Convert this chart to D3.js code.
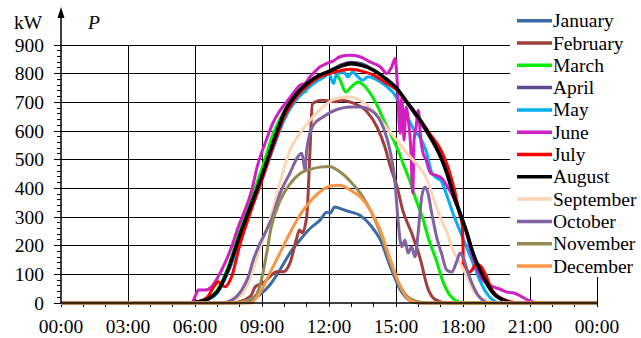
<!DOCTYPE html>
<html>
<head>
<meta charset="utf-8">
<script src="https://cdn.jsdelivr.net/npm/d3@7"></script>
<style>
  body { margin: 0; background: #fff; }
  svg { display: block; }
  svg text { font-family: "Liberation Serif", "Times New Roman", "DejaVu Serif", serif !important; }
</style>
</head>
<body>
<div id="chart"></div>
<script>
// hourly power, [hour of day, kW]
const january = [[0,0],[8,0],[8.5,10],[9,35],[9.35,63],[9.8,115],[10.25,174],[10.7,220],[11.15,260],[11.6,289],[11.9,317],[12.05,313],[12.25,335],[12.7,324],[12.95,318],[13.4,305],[13.85,272],[14.3,220],[14.75,126],[15.2,45],[15.6,10],[16.1,0],[24,0]];
const february = [[0,0],[7.6,0],[8,5],[8.5,25],[8.7,57],[9.1,72],[9.35,92],[9.65,109],[9.95,109],[10.25,139],[10.55,225],[10.68,255],[10.8,245],[11,300],[11.15,533],[11.25,695],[11.7,707],[12.3,702],[12.5,707],[13.1,697],[13.7,667],[14.15,614],[14.5,545],[14.75,475],[15.05,405],[15.3,324],[15.7,244],[16.1,150],[16.4,57],[16.8,10],[17.3,0],[24,0]];
const march = [[0,0],[5.8,0],[6.5,15],[7,45],[7.5,130],[8,250],[8.5,360],[9,470],[9.5,590],[10,670],[10.5,730],[10.75,742],[10.95,736],[11.05,766],[11.65,794],[12,805],[12.2,812],[12.5,777],[12.75,736],[13,754],[13.3,771],[13.55,760],[13.85,731],[14.15,690],[14.45,638],[14.75,592],[15.05,540],[15.35,480],[15.6,430],[15.9,359],[16.2,295],[16.45,226],[16.8,150],[17.1,75],[17.4,28],[17.7,8],[18,0],[24,0]];
const april = [[0,0],[5.8,0],[6.2,5],[6.6,15],[7,38],[7.5,115],[8,228],[8.5,335],[9,440],[9.5,555],[10,660],[10.5,722],[11,762],[11.5,790],[12,808],[12.5,830],[13,840],[13.5,834],[14,812],[14.5,783],[15,750],[15.5,698],[16,640],[16.5,580],[17,510],[17.3,450],[17.55,380],[17.87,310],[18.18,240],[18.45,170],[18.75,112],[19.05,66],[19.35,33],[19.8,9],[20.3,0],[24,0]];
const may = [[0,0],[5.9,0],[6.5,10],[7,35],[7.5,110],[8,215],[8.5,325],[9,430],[9.5,540],[10,640],[10.5,705],[11,745],[11.5,775],[11.8,789],[12,800],[12.2,766],[12.35,801],[12.65,806],[12.85,789],[13.05,806],[13.3,789],[13.5,777],[13.75,789],[14,784],[14.3,771],[14.6,754],[14.9,731],[15.2,690],[15.5,650],[15.8,605],[16.1,575],[16.35,530],[16.6,455],[16.85,435],[17,428],[17.3,370],[17.55,313],[17.85,254],[18.15,196],[18.45,139],[18.75,80],[19.05,35],[19.35,10],[19.7,0],[24,0]];
const june = [[0,0],[5.85,0],[6,22],[6.15,45],[6.45,45],[6.75,57],[7.04,92],[7.34,139],[7.64,196],[7.94,266],[8.24,324],[8.54,394],[8.8,480],[9.2,570],[9.5,630],[9.81,672],[10.1,701],[10.39,731],[10.7,760],[10.93,766],[11.15,789],[11.29,801],[11.6,824],[11.9,836],[12.18,844],[12.49,859],[12.94,864],[13.39,859],[13.84,841],[14.29,824],[14.59,801],[14.81,824],[14.96,853],[15.06,766],[15.18,592],[15.26,719],[15.36,568],[15.45,684],[15.55,638],[15.66,545],[15.75,383],[15.81,568],[15.9,614],[16,672],[16.11,568],[16.22,520],[16.35,500],[16.45,470],[16.6,450],[16.82,445],[17.05,435],[17.27,410],[17.5,380],[17.72,340],[17.94,300],[18.17,240],[18.39,170],[18.62,120],[18.84,85],[19.06,68],[19.36,56],[19.66,48],[19.96,38],[20.24,36],[20.56,25],[20.86,12],[21.14,4],[21.45,0],[24,0]];
const july = [[0,0],[5.8,0],[6.3,8],[6.6,25],[6.75,45],[6.9,63],[7.04,74],[7.2,63],[7.34,57],[7.64,92],[8,200],[8.5,320],[9,430],[9.5,545],[10,650],[10.5,715],[11,755],[11.5,785],[12,800],[12.5,810],[13,815],[13.5,808],[14,795],[14.5,770],[15,745],[15.5,700],[16,648],[16.5,592],[17,535],[17.3,480],[17.6,400],[17.85,310],[17.97,270],[18.03,125],[18.3,108],[18.6,135],[18.8,128],[19.05,92],[19.3,45],[19.7,17],[20.1,5],[20.5,0],[24,0]];
const august = [[0,0],[5.8,0],[6.2,5],[6.6,15],[7,40],[7.5,120],[8,235],[8.5,340],[9,445],[9.5,560],[10,665],[10.5,725],[11,765],[11.5,792],[12,808],[12.5,825],[13,835],[13.5,828],[14,812],[14.5,785],[15,752],[15.5,700],[16.08,638],[16.5,585],[16.97,515],[17.29,450],[17.55,383],[17.87,313],[18.18,244],[18.45,174],[18.76,115],[19.07,69],[19.35,35],[19.8,10],[20.3,0],[24,0]];
const september = [[0,0],[7.5,0],[7.9,15],[8.24,45],[8.54,104],[8.84,174],[9.14,244],[9.44,313],[9.81,420],[10.25,533],[10.7,592],[11.15,638],[11.73,684],[12.27,712],[12.94,719],[13.52,701],[13.97,672],[14.42,627],[15.03,568],[15.63,510],[16.08,470],[16.39,430],[16.66,370],[16.97,301],[17.29,244],[17.55,185],[17.87,139],[18.18,92],[18.45,45],[18.76,22],[19.08,5],[19.4,0],[24,0]];
const october = [[0,0],[7.2,0],[7.64,10],[8.09,45],[8.39,92],[8.61,150],[8.84,196],[9.14,244],[9.44,295],[9.81,383],[10.25,453],[10.61,510],[10.78,522],[10.93,463],[11,533],[11.29,620],[11.73,649],[12.35,675],[12.94,684],[13.39,684],[13.97,667],[14.42,614],[14.73,533],[14.96,418],[15.09,289],[15.26,196],[15.4,220],[15.54,174],[15.7,196],[15.85,161],[15.99,244],[16.15,370],[16.3,405],[16.43,383],[16.6,313],[16.82,230],[17.05,170],[17.27,115],[17.5,108],[17.72,145],[17.87,174],[18,160],[18.23,104],[18.45,60],[18.76,18],[19.2,0],[24,0]];
const november = [[0,0],[7.5,0],[8.3,8],[8.75,30],[9,90],[9.2,170],[9.4,260],[9.8,355],[10.25,415],[10.7,452],[11.15,466],[11.6,474],[12,476],[12.5,457],[12.95,425],[13.4,383],[13.85,324],[14.3,244],[14.75,139],[15.2,57],[15.6,17],[16.1,3],[16.5,0],[24,0]];
const december = [[0,0],[8.5,0],[8.9,35],[9.35,104],[9.8,174],[10.25,244],[10.7,307],[11.15,353],[11.6,388],[12.05,408],[12.5,411],[12.95,394],[13.4,370],[13.85,324],[14.3,254],[14.75,150],[15.2,57],[15.6,10],[16.1,0],[24,0]];

const monthNames = ['January', 'February', 'March', 'April', 'May', 'June', 'July', 'August', 'September', 'October', 'November', 'December'];
const monthValues = [january, february, march, april, may, june, july, august, september, october, november, december];
const monthColors = ['#3d6ba3', '#a23f3c', '#00ee00', '#604a8c', '#00b0f0', '#d21fc1', '#ff0000', '#000000', '#fcd5b4', '#8064a2', '#948a54', '#f79646'];

const yTicks = [0, 100, 200, 300, 400, 500, 600, 700, 800, 900];
const xTicks = [0, 3, 6, 9, 12, 15, 18, 21, 24];
const xTickLabels = ['00:00', '03:00', '06:00', '09:00', '12:00', '15:00', '18:00', '21:00', '00:00'];

const serif = '"Liberation Serif", "Times New Roman", "DejaVu Serif", serif';
const fontSize = 19.5;

const width = 641, height = 338;
const svg = d3.select('#chart').append('svg')
  .attr('width', width)
  .attr('height', height);

const x = d3.scaleLinear().domain([0, 24]).range([61, 597]);
const y = d3.scaleLinear().domain([0, 900]).range([303, 45]);

// grid
const grid = svg.append('g').attr('shape-rendering', 'crispEdges');
grid.selectAll('line.h')
  .data(yTicks.filter(d => d > 0))
  .enter().append('line')
  .attr('x1', x(0)).attr('x2', x(24))
  .attr('y1', d => y(d)).attr('y2', d => y(d))
  .attr('stroke', '#000').attr('stroke-width', 1);
grid.selectAll('line.v')
  .data(xTicks.filter(d => d > 0))
  .enter().append('line')
  .attr('x1', d => x(d)).attr('x2', d => x(d))
  .attr('y1', y(900)).attr('y2', y(0))
  .attr('stroke', '#000').attr('stroke-width', 1);

// minor ticks
grid.selectAll('line.ym')
  .data(d3.range(0, 901, 20))
  .enter().append('line')
  .attr('x1', d => x(0) - (d % 100 === 0 ? 7 : 4)).attr('x2', x(0))
  .attr('y1', d => y(d)).attr('y2', d => y(d))
  .attr('stroke', '#000');
grid.selectAll('line.xm')
  .data(d3.range(0, 25, 1))
  .enter().append('line')
  .attr('x1', d => x(d)).attr('x2', d => x(d))
  .attr('y1', y(0)).attr('y2', y(0) + 4)
  .attr('stroke', '#000');

// series
const line = d3.line()
  .x(d => x(d[0]))
  .y(d => y(d[1]))
  .curve(d3.curveMonotoneX);

svg.append('g').selectAll('path')
  .data(monthValues)
  .enter().append('path')
  .attr('d', line)
  .attr('fill', 'none')
  .attr('stroke', (d, i) => monthColors[i])
  .attr('stroke-width', (d, i) => i === 7 ? 3.6 : 3)
  .attr('stroke-linejoin', 'round');

// axes lines
svg.append('line')
  .attr('x1', x(0)).attr('x2', x(24))
  .attr('y1', y(0)).attr('y2', y(0))
  .attr('stroke', '#000').attr('stroke-width', 1.5);
svg.append('line')
  .attr('x1', x(0)).attr('x2', x(0))
  .attr('y1', y(0)).attr('y2', 14)
  .attr('stroke', '#000').attr('stroke-width', 1.5);
svg.append('path')
  .attr('d', `M${x(0)},7 L${x(0) - 3.5},18 L${x(0) + 3.5},18 Z`)
  .attr('fill', '#000');

// text helper
function label(sel) {
  return sel.style('font-family', serif).attr('font-size', fontSize).attr('fill', '#000');
}

svg.append('g').selectAll('text')
  .data(yTicks)
  .enter().append('text')
  .attr('x', 44)
  .attr('y', d => y(d) + 6.5)
  .attr('text-anchor', 'end')
  .call(label)
  .text(d => d);
svg.append('g').selectAll('text')
  .data(xTicks)
  .enter().append('text')
  .attr('x', d => x(d))
  .attr('y', 333)
  .attr('text-anchor', 'middle')
  .call(label)
  .text((d, i) => xTickLabels[i]);

svg.append('text').attr('x', 14).attr('y', 29).call(label).text('kW');
svg.append('text').attr('x', 88).attr('y', 29).call(label)
  .attr('font-style', 'italic').text('P');

// legend
svg.append('rect')
  .attr('x', 510).attr('y', 4).attr('width', 131).attr('height', 273)
  .attr('fill', '#fff');
const legend = svg.append('g').selectAll('g')
  .data(monthNames)
  .enter().append('g')
  .attr('transform', (d, i) => `translate(0,${20.7 + i * 22.3})`);
legend.append('line')
  .attr('x1', 517).attr('x2', 552)
  .attr('y1', 0).attr('y2', 0)
  .attr('stroke', (d, i) => monthColors[i])
  .attr('stroke-width', 3.5);
legend.append('text')
  .attr('x', 553).attr('y', 6.5)
  .call(label)
  .text(d => d);
</script>
</body>
</html>
